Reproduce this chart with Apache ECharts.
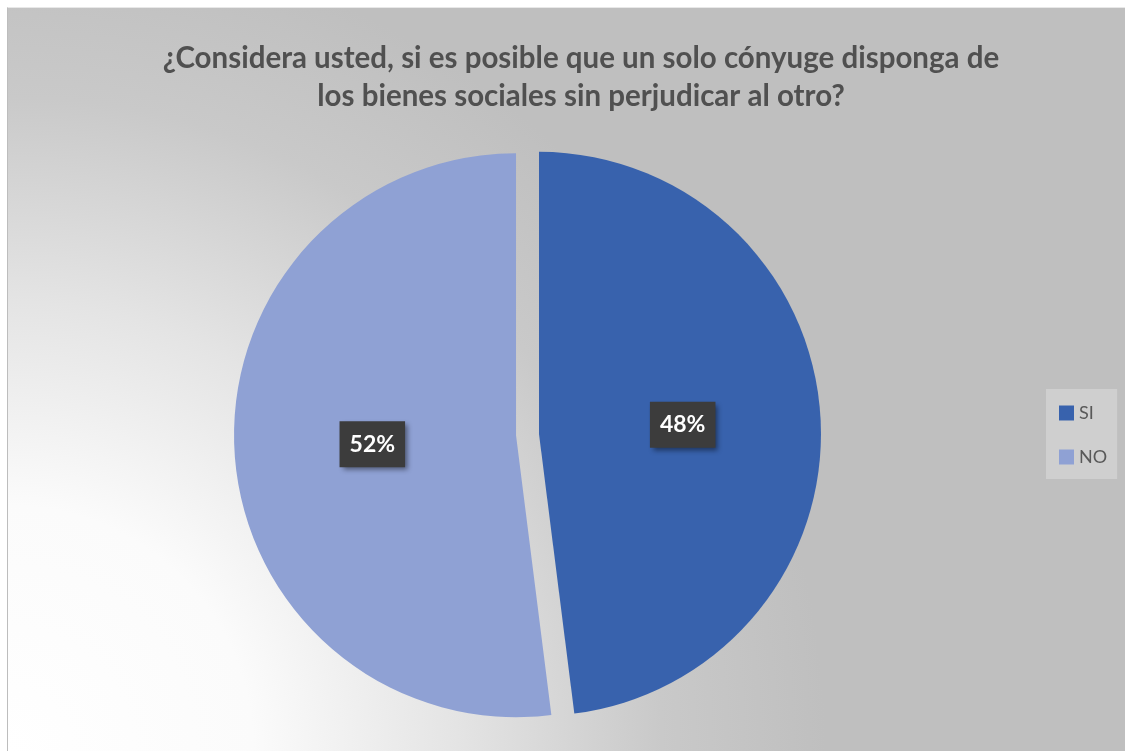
<!DOCTYPE html>
<html>
<head>
<meta charset="utf-8">
<script src="https://cdn.jsdelivr.net/npm/echarts@6/dist/echarts.min.js"></script>
<style>
  html, body { margin: 0; padding: 0; background: #ffffff; }
  #chart { position: absolute; left: 7px; top: 7px; width: 1118px; height: 744px; box-sizing: border-box; border-left: 1px solid #bdbdbd; border-top: 1px solid #e8e8e8; }
</style>
</head>
<body>
<div id="chart"></div>
<script>
const titleText = '¿Considera usted, si es posible que un solo cónyuge disponga de\nlos bienes sociales sin perjudicar al otro?';
const categories = ['SI', 'NO'];
const values = [48, 52];
const colors = ['#3862ad', '#8fa1d4'];

const chart = echarts.init(document.getElementById('chart'), null, { renderer: 'canvas' });

const option = {
  animation: false,
  backgroundColor: new echarts.graphic.RadialGradient(0, 1, 1.1, [
    { offset: 0, color: '#ffffff' },
    { offset: 0.3, color: '#fbfbfb' },
    { offset: 0.55, color: '#e4e4e4' },
    { offset: 0.8, color: '#c9c9c9' },
    { offset: 1, color: '#bfbfbf' }
  ]),
  title: {
    text: titleText,
    left: 568,
    top: 26,
    textAlign: 'center',
    textStyle: {
      fontFamily: 'Lato',
      fontWeight: 'bold',
      fontSize: 29.5,
      lineHeight: 38,
      color: '#505050',
      align: 'center'
    }
  },
  legend: {
    orient: 'vertical',
    left: 1038,
    top: 381,
    data: categories,
    backgroundColor: 'rgba(255,255,255,0.25)',
    padding: [15, 10, 13, 13],
    itemWidth: 15,
    itemHeight: 15,
    itemGap: 26,
    icon: 'rect',
    selectedMode: false,
    textStyle: {
      fontFamily: 'Lato',
      fontSize: 18,
      color: '#595959',
      lineHeight: 15
    }
  },
  series: [{
    type: 'pie',
    center: [519.5, 426.5],
    radius: [0, 282],
    startAngle: 90,
    clockwise: true,
    selectedMode: 'multiple',
    selectedOffset: 11.5,
    avoidLabelOverlap: false,
    emphasis: { disabled: true },
    label: {
      show: true,
      position: 'inside',
      formatter: function (p) { return Math.round(p.percent) + '%'; },
      fontFamily: 'Lato',
      fontWeight: 'bold',
      fontSize: 23,
      lineHeight: 26,
      color: '#ffffff',
      backgroundColor: '#3c3c3c',
      padding: [10, 10],
      shadowColor: 'rgba(0,0,0,0.45)',
      shadowBlur: 5,
      shadowOffsetX: 3,
      shadowOffsetY: 3
    },
    labelLine: { show: false },
    data: categories.map(function (c, i) {
      return { name: c, value: values[i], selected: true, itemStyle: { color: colors[i] } };
    })
  }]
};
chart.setOption(option);
</script>
</body>
</html>
